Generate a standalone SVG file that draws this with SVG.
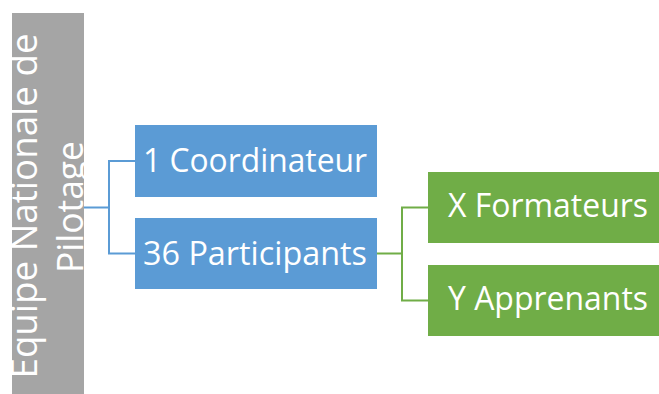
<svg xmlns="http://www.w3.org/2000/svg" width="659" height="394" viewBox="0 0 659 394">
<style>
.t{font-family:"Open Sans","Liberation Sans",sans-serif;fill:#fff;}
.b{font-size:33px;}
.g{font-size:37px;}
.blue{fill:#5B9BD5;}
.green{fill:#70AD47;}
.cb{fill:none;stroke:#5B9BD5;stroke-width:2;}
.cg{fill:none;stroke:#70AD47;stroke-width:2;}
</style>
<rect width="659" height="394" fill="#fff"/>
<g id="connectors">
<path class="cb" d="M84,207.5 H109 M135,161 H109 V253.5 H135"/>
<path class="cg" d="M377,253.5 H402 M428,207.5 H402 V300.5 H428"/>
</g>
<g id="root">
<rect x="12" y="13" width="72" height="381" fill="#A5A5A5"/>
<text class="t g" transform="translate(37,206) rotate(-90)" text-anchor="middle" textLength="345" lengthAdjust="spacingAndGlyphs">Equipe Nationale de</text>
<text class="t g" transform="translate(83,207) rotate(-90)" text-anchor="middle" textLength="132" lengthAdjust="spacingAndGlyphs">Pilotage</text>
</g>
<g id="coord">
<rect class="blue" x="135" y="125" width="242" height="72"/>
<text class="t b" x="143" y="172" textLength="224" lengthAdjust="spacingAndGlyphs">1 Coordinateur</text>
</g>
<g id="participants">
<rect class="blue" x="135" y="218" width="242" height="71"/>
<text class="t b" x="143" y="265" textLength="224" lengthAdjust="spacingAndGlyphs">36 Participants</text>
</g>
<g id="formateurs">
<rect class="green" x="428" y="172" width="232" height="71"/>
<text class="t b" x="448" y="217" textLength="200" lengthAdjust="spacingAndGlyphs">X Formateurs</text>
</g>
<g id="apprenants">
<rect class="green" x="428" y="265" width="232" height="71"/>
<text class="t b" x="448" y="310" textLength="200" lengthAdjust="spacingAndGlyphs">Y Apprenants</text>
</g>
</svg>
